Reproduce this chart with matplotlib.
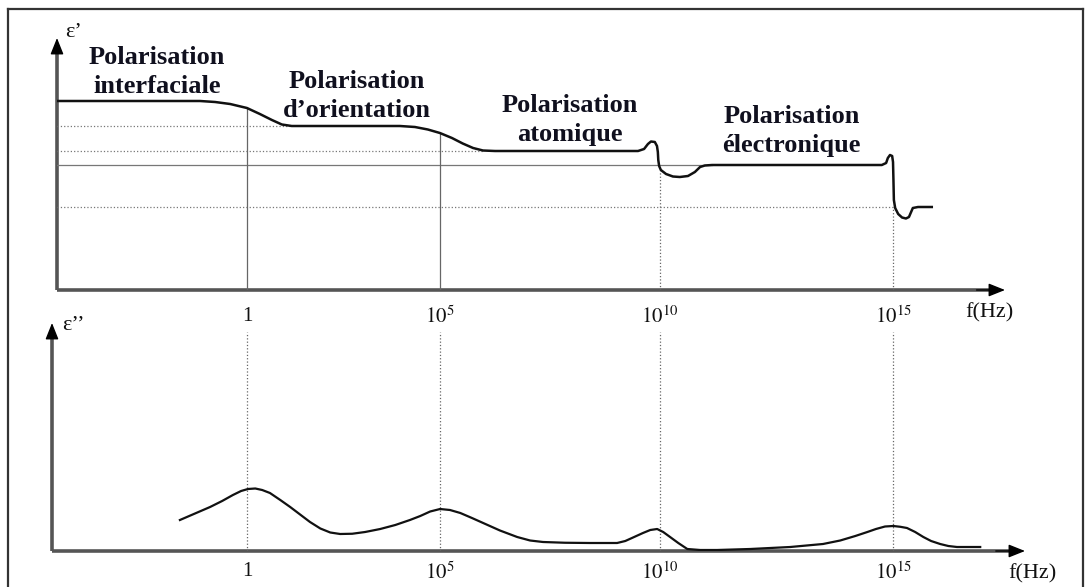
import matplotlib.pyplot as plt
from matplotlib.lines import Line2D

plt.rcParams['font.family'] = ['Liberation Serif', 'DejaVu Serif']
plt.rcParams['mathtext.fontset'] = 'stix'

# x in decades (0 -> 1 Hz), as drawn on the sketch
tick_pos = [0, 4.48, 9.59, 15.0]
tick_labels = ['1', '$10^{5}$', '$10^{10}$', '$10^{15}$']

# eps' (real part), arbitrary units
eps1_x = [-4.41, -1.32, -1.09, -0.74, -0.39, 0, 0.30, 0.58, 0.81, 1.04, 1.35,
          3.55, 3.90, 4.20, 4.48, 4.76, 5.01, 5.25, 5.48, 5.76,
          9.08, 9.22, 9.31, 9.38, 9.47, 9.52, 9.54, 9.55, 9.57, 9.61, 9.73, 9.89,
          10.05, 10.24, 10.40, 10.52, 10.63, 10.80,
          14.74, 14.84, 14.88, 14.93, 14.98, 15.00, 15.01, 15.02, 15.05, 15.12,
          15.21, 15.30, 15.37, 15.42, 15.46, 15.58, 15.90]
eps1_y = [7.56, 7.56, 7.56, 7.52, 7.44, 7.28, 7.04, 6.80, 6.62, 6.56, 6.56,
          6.56, 6.52, 6.42, 6.28, 6.08, 5.86, 5.68, 5.58, 5.56,
          5.56, 5.64, 5.84, 5.94, 5.92, 5.76, 5.52, 5.20, 4.96, 4.80, 4.64, 4.54,
          4.52, 4.56, 4.72, 4.92, 4.98, 5.00,
          5.00, 5.08, 5.28, 5.40, 5.36, 5.12, 4.40, 3.60, 3.28, 3.04,
          2.90, 2.86, 2.92, 3.12, 3.28, 3.32, 3.32]

# plateau levels of eps' and how far their guide lines run
levels = [6.56, 5.56, 5.00, 3.32]
level_end = [1.0, 5.5, 10.8, 15.0]
level_style = [':', ':', '-', ':']
# height of the vertical guides in the top panel
vguide_top = [7.28, 6.28, 4.8, 3.3]

# eps'' (loss), arbitrary units
eps2_x = [-1.56, -1.21, -0.86, -0.58, -0.33, -0.14, 0.02, 0.19, 0.35, 0.53,
          0.77, 1.00, 1.23, 1.46, 1.70, 1.93, 2.16, 2.44, 2.74, 3.09, 3.44,
          3.78, 4.02, 4.25, 4.48, 4.71, 4.95, 5.22, 5.48, 5.87, 6.27, 6.57,
          6.87, 7.38, 7.96, 8.59, 8.78, 8.96, 9.19, 9.36, 9.52, 9.66, 9.82,
          10.01, 10.22, 10.52, 10.91, 11.68, 12.61, 13.37, 13.77, 14.12, 14.40,
          14.60, 14.81, 15.00, 15.16, 15.32, 15.51, 15.70, 15.88, 16.09, 16.28,
          16.48, 17.02]
eps2_y = [1.24, 1.50, 1.76, 2.00, 2.24, 2.40, 2.48, 2.50, 2.44, 2.32,
          2.04, 1.76, 1.46, 1.16, 0.90, 0.74, 0.68, 0.69, 0.76, 0.88, 1.04,
          1.24, 1.40, 1.58, 1.68, 1.64, 1.52, 1.32, 1.12, 0.82, 0.56, 0.42,
          0.36, 0.33, 0.32, 0.32, 0.40, 0.54, 0.72, 0.84, 0.88, 0.76, 0.56,
          0.32, 0.08, 0.04, 0.04, 0.08, 0.16, 0.28, 0.42, 0.60, 0.76,
          0.88, 0.98, 1.00, 0.97, 0.92, 0.76, 0.56, 0.40, 0.28, 0.20,
          0.16, 0.16]

regions = ['Polarisation\ninterfaciale', 'Polarisation\nd\u2019orientation',
           'Polarisation\natomique', 'Polarisation\n\u00e9lectronique']
region_x = [-2.09, 2.55, 7.50, 12.65]
region_y = [8.72, 7.76, 6.80, 6.36]

W, H = 1087, 587
fig = plt.figure(figsize=(W / 100, H / 100), dpi=100)

# frame around the whole figure
for xs, ys in [([8, 8], [9, 587]), ([8, 1083], [9, 9]), ([1083, 1083], [9, 587])]:
    fig.add_artist(Line2D([x / W for x in xs], [1 - y / H for y in ys],
                          color='#333333', lw=1.6))

ax1 = fig.add_axes([57 / W, 1 - 290 / H, (1005 - 57) / W, (290 - 38) / H])
ax2 = fig.add_axes([52 / W, 1 - 551 / H, (1025 - 52) / W, (551 - 323) / H])
ax1.set_xlim(-4.41, 17.60)
ax1.set_ylim(0, 10.08)
ax2.set_xlim(-4.53, 18.06)
ax2.set_ylim(0, 9.12)

head = dict(arrowstyle='-|>,head_length=1.0,head_width=0.4', color='black',
            lw=1, shrinkA=0, shrinkB=0)
for ax, pad in ((ax1, 12), (ax2, 8)):
    for s in ax.spines.values():
        s.set_visible(False)
    ax.set_yticks([])
    ax.set_xticks(tick_pos, tick_labels)
    ax.tick_params(axis='x', length=0, pad=pad, labelsize=15, colors='#111111')
    ax.patch.set_visible(False)
    # axes drawn as grey lines with black arrow heads
    ax.plot([0, 0], [0, 0.97], transform=ax.transAxes, color='#555555',
            lw=2.6, clip_on=False, solid_capstyle='butt')
    ax.plot([0, 0.985], [0, 0], transform=ax.transAxes, color='#555555',
            lw=2.6, clip_on=False, solid_capstyle='butt')
    ax.annotate('', xy=(0, 1), xytext=(0, 0.95), xycoords='axes fraction',
                arrowprops=head)
    ax.annotate('', xy=(1, 0), xytext=(0.97, 0), xycoords='axes fraction',
                arrowprops=head)

# top panel: eps'
x0 = ax1.get_xlim()[0]
for lv, xe, ls in zip(levels, level_end, level_style):
    ax1.plot([x0, xe], [lv, lv], ls=ls, color='#777777', lw=0.9)
for xp, ht, ls in zip(tick_pos, vguide_top, ['-', '-', ':', ':']):
    ax1.plot([xp, xp], [0, ht], ls=ls, color='#666666', lw=0.9)
ax1.plot(eps1_x, eps1_y, color='#111111', lw=1.8)
for txt, tx, ty in zip(regions, region_x, region_y):
    ax1.text(tx, ty, txt, ha='center', va='center', fontsize=19,
             fontweight='bold', color='#10101e', linespacing=1.3)
ax1.text(0.009, 1.02, '\u03b5\u2019', transform=ax1.transAxes, fontsize=16,
         ha='left', va='center', color='#111111')
ax1.text(0.984, -0.09, 'f(Hz)', transform=ax1.transAxes, fontsize=16,
         ha='center', va='center', color='#111111')

# bottom panel: eps''
for xp in tick_pos:
    ax2.plot([xp, xp], [0, 8.76], ls=':', color='#666666', lw=0.9)
ax2.plot(eps2_x, eps2_y, color='#111111', lw=1.6)
ax2.text(0.01, 0.99, '\u03b5\u2019\u2019', transform=ax2.transAxes, fontsize=16,
         ha='left', va='center', color='#111111')
ax2.text(1.008, -0.10, 'f(Hz)', transform=ax2.transAxes, fontsize=16,
         ha='center', va='center', color='#111111')

fig.savefig('out.png', dpi=100)
